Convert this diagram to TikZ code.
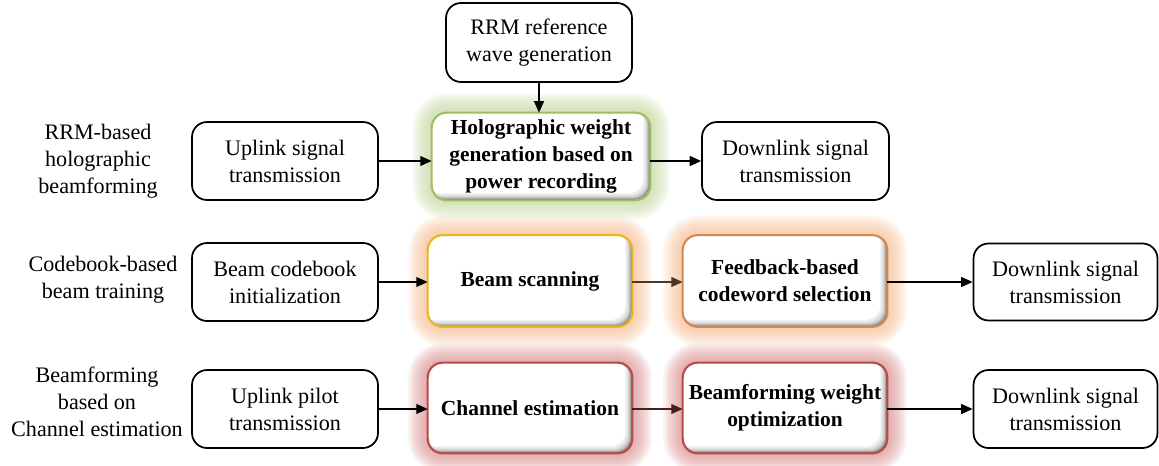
\documentclass[tikz,border=0pt]{standalone}
\usepackage{fontspec}
\setmainfont{Liberation Serif}
\usetikzlibrary{arrows.meta,backgrounds,calc}

\definecolor{greenline}{HTML}{9DBF62}
\definecolor{greenglow}{HTML}{BFD69A}
\definecolor{goldline}{HTML}{E8B620}
\definecolor{orangeline}{HTML}{D08A55}
\definecolor{peachglow}{HTML}{F6B98C}
\definecolor{redline}{HTML}{B84A48}
\definecolor{redglow}{HTML}{D88C8C}
\definecolor{brownarrow}{HTML}{4E3626}
\definecolor{maroonarrow}{HTML}{45201E}
\definecolor{innershade}{HTML}{707070}

\tikzset{
  txt/.style={font=\fontsize{12.6}{15.3}\selectfont, align=center},
  plainbox/.style={txt, draw=black, line width=1pt, rounded corners=0.3cm,
    fill=white, inner sep=0pt},
  keybox/.style={txt, font=\fontsize{12.2}{15.3}\selectfont\bfseries,
    inner sep=0pt},
  sidelabel/.style={txt},
  flow/.style={-{Triangle[length=6.5pt,width=5.6pt]}, line width=0.9pt},
}

% Highlighted box: soft outer glow, inner bottom-right shading, coloured rim
\newcommand{\glowbox}[3]{%
  \begin{scope}[on background layer]
    \foreach \d in {19.5,18,...,1.5}{
      \pgfmathsetmacro{\rr}{0.3+0.02*\d}
      \fill[#3, fill opacity=0.085, rounded corners=\rr cm]
        ($(#1.south west)+(-\d,\d)$) rectangle ($(#1.north east)+(\d,-\d)$);
    }
    \begin{scope}
      \clip[rounded corners=0.3cm] (#1.south west) rectangle (#1.north east);
      \fill[innershade] (#1.south west) rectangle (#1.north east);
      \foreach \k in {1,...,6}{
        \fill[white, fill opacity=0.32, rounded corners=0.3cm]
          ($(#1.south west)+(-\k,-\k)$) rectangle ($(#1.north east)+(-\k,-\k)$);
      }
      \fill[white, rounded corners=0.3cm]
        ($(#1.south west)+(-7,-7)$) rectangle ($(#1.north east)+(-7,-7)$);
    \end{scope}
  \end{scope}
  \draw[#2, line width=1.2pt, rounded corners=0.3cm]
    (#1.south west) rectangle (#1.north east);
}

\begin{document}
\begin{tikzpicture}[x=0.02cm, y=-0.02cm]
  \useasboundingbox (0,0) rectangle (1159,466);

  % row labels
  \node[sidelabel] (l1) at (98,161) {RRM-based\\holographic\\beamforming};
  \node[sidelabel] (l2) at (103,280) {Codebook-based\\beam training};
  \node[sidelabel] (l3) at (97,402) {Beamforming\\based on\\Channel estimation};

  % top input
  \node[plainbox, minimum width=3.72cm, minimum height=1.58cm] (rrm) at (539,42.5)
    {RRM reference\\wave generation};

  % row 1
  \node[plainbox, minimum width=3.72cm, minimum height=1.56cm] (ul1) at (285,161)
    {Uplink signal\\transmission};
  \node[keybox, minimum width=4.36cm, minimum height=1.74cm] (holo) at (541,156.5)
    {Holographic weight\\generation based on\\power recording};
  \node[plainbox, minimum width=3.74cm, minimum height=1.56cm] (dl1) at (795.5,161)
    {Downlink signal\\transmission};

  % row 2
  \node[plainbox, minimum width=3.72cm, minimum height=1.56cm] (bci) at (285,282)
    {Beam codebook\\initialization};
  \node[keybox, minimum width=4.08cm, minimum height=1.82cm] (bs) at (530,281)
    {Beam scanning};
  \node[keybox, minimum width=4.08cm, minimum height=1.82cm] (fb) at (785,281)
    {Feedback-based\\codeword selection};
  \node[plainbox, minimum width=3.68cm, minimum height=1.54cm] (dl2) at (1065.5,282)
    {Downlink signal\\transmission};

  % row 3
  \node[plainbox, minimum width=3.72cm, minimum height=1.56cm] (ulp) at (285,409)
    {Uplink pilot\\transmission};
  \node[keybox, minimum width=4.08cm, minimum height=1.8cm] (ce) at (530,408)
    {Channel estimation};
  \node[keybox, minimum width=4.08cm, minimum height=1.8cm] (bw) at (785,408)
    {Beamforming weight\\optimization};
  \node[plainbox, minimum width=3.68cm, minimum height=1.56cm] (dl3) at (1065.5,409)
    {Downlink signal\\transmission};

  % highlighted processing stages
  \glowbox{holo}{greenline}{greenglow}
  \glowbox{bs}{goldline}{peachglow}
  \glowbox{fb}{orangeline}{peachglow}
  \glowbox{ce}{redline}{redglow}
  \glowbox{bw}{redline}{redglow}

  % connectors
  \draw[flow] (rrm.south) -- (rrm.south |- holo.north);
  \draw[flow] (ul1.east) -- (ul1.east -| holo.west);
  \draw[flow] (holo.east |- dl1.west) -- (dl1.west);

  \draw[flow] (bci.east) -- (bci.east -| bs.west);
  \draw[flow, brownarrow] (bs.east |- bci.east) -- (fb.west |- bci.east);
  \draw[flow] (fb.east |- dl2.west) -- (dl2.west);

  \draw[flow] (ulp.east) -- (ulp.east -| ce.west);
  \draw[flow, maroonarrow] (ce.east |- ulp.east) -- (bw.west |- ulp.east);
  \draw[flow] (bw.east |- dl3.west) -- (dl3.west);
\end{tikzpicture}
\end{document}
